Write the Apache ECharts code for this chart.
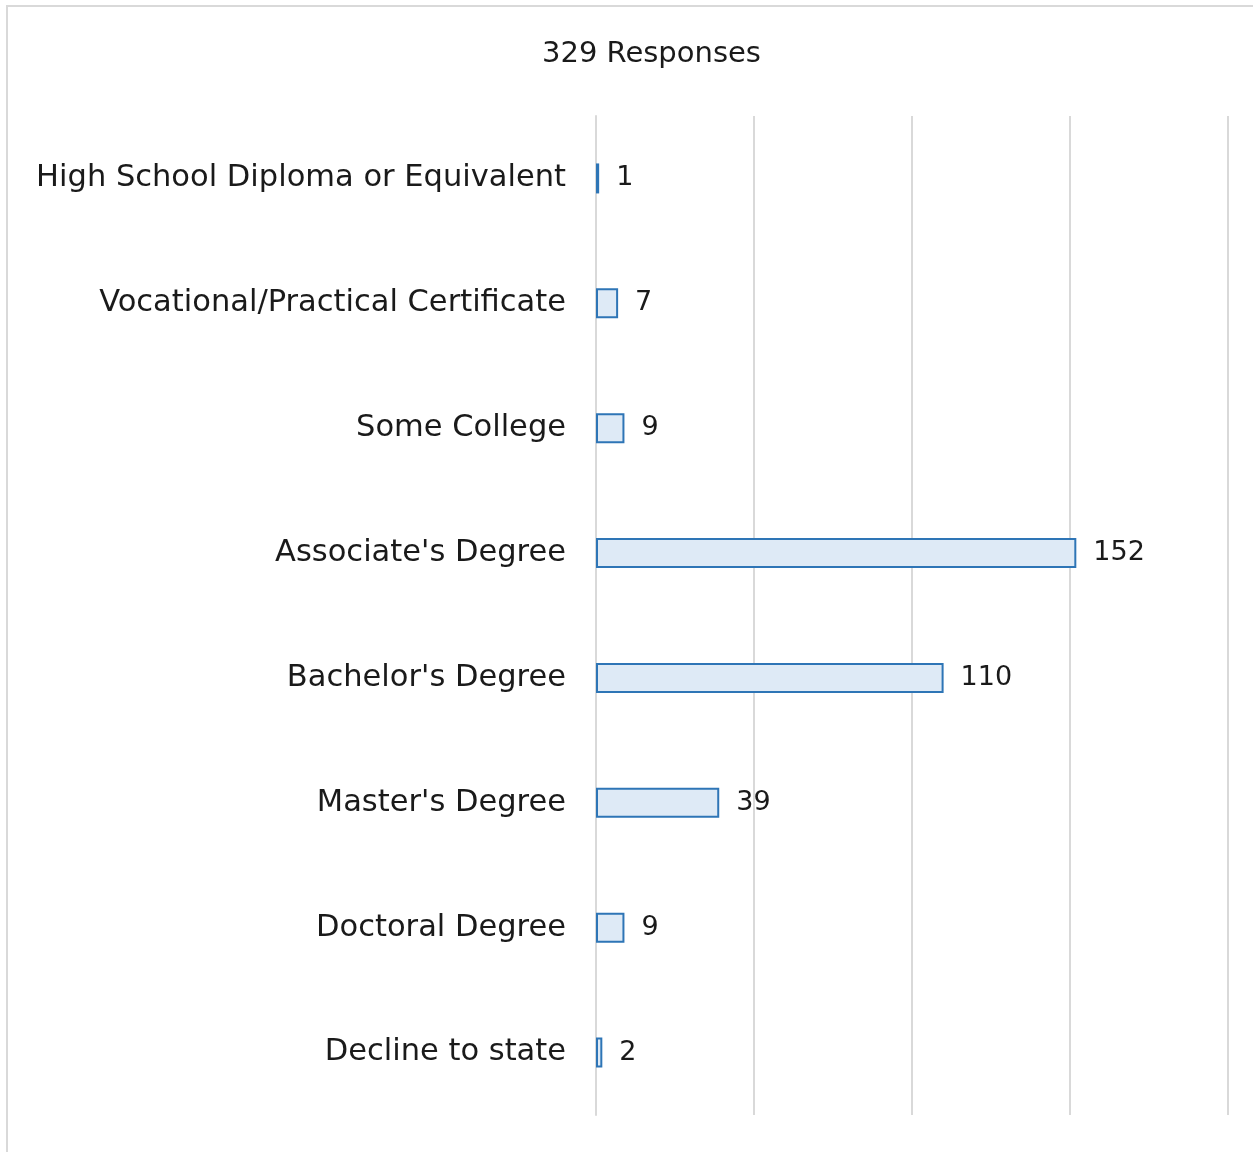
<!DOCTYPE html>
<html>
<head>
<meta charset="utf-8">
<script src="https://cdn.jsdelivr.net/npm/echarts@6/dist/echarts.min.js"></script>
<style>
  html, body { margin: 0; padding: 0; background: #fff; }
  #frame { position: absolute; left: 6px; top: 5px; width: 1260px; height: 1160px; border: 2px solid #d9d9d9; box-sizing: border-box; }
  #chart { position: absolute; left: 0; top: 0; width: 1253px; height: 1152px; }
</style>
</head>
<body>
<div id="frame"></div>
<div id="chart"></div>
<script>
// categories top to bottom
const categories = [
  'High School Diploma or Equivalent',
  'Vocational/Practical Certificate',
  'Some College',
  "Associate's Degree",
  "Bachelor's Degree",
  "Master's Degree",
  'Doctoral Degree',
  'Decline to state'
]
const counts = [1, 7, 9, 152, 110, 39, 9, 2]
const titleText = '329 Responses'

const font = 'DejaVu Sans'
const chart = echarts.init(document.getElementById('chart'))
chart.setOption({
  animation: false,
  title: {
    text: titleText,
    left: 537,
    top: 35,
    textStyle: { fontFamily: font, fontSize: 29, fontWeight: 'normal', color: '#1a1a1a' }
  },
  grid: { left: 596, right: 25, top: 116, bottom: 37 },
  xAxis: {
    type: 'value',
    min: 0,
    max: 200,
    interval: 50,
    axisLabel: { show: false },
    axisLine: { show: false },
    axisTick: { show: false },
    splitLine: { lineStyle: { color: '#d9d9d9', width: 2 } }
  },
  yAxis: {
    type: 'category',
    inverse: true,
    data: categories,
    axisLine: { show: true, lineStyle: { color: '#d9d9d9', width: 2 } },
    axisTick: { show: false },
    axisLabel: { margin: 30, fontFamily: font, fontSize: 30.5, color: '#1a1a1a' }
  },
  series: [{
    type: 'bar',
    data: counts,
    barWidth: 30,
    itemStyle: { color: '#deeaf6', borderColor: '#2e75b6', borderWidth: 2 },
    label: {
      show: true,
      position: 'right',
      distance: 17,
      fontFamily: font,
      fontSize: 27,
      color: '#1a1a1a'
    }
  }]
})
</script>
</body>
</html>
